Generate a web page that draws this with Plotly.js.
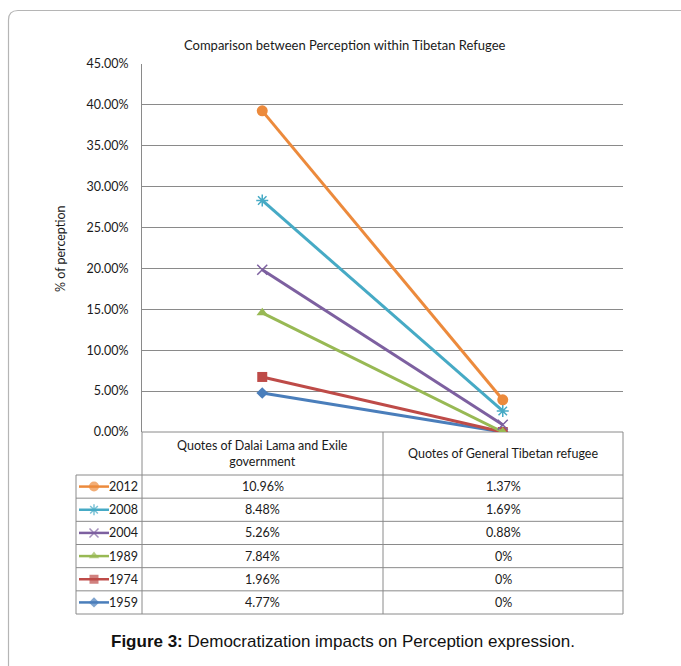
<!DOCTYPE html>
<html>
<head>
<meta charset="utf-8">
<script src="https://cdn.plot.ly/plotly-3.0.1.min.js"></script>
<style>html,body{margin:0;padding:0;background:#fff;}#chart{width:681px;height:666px;}</style>
</head>
<body>
<div id="chart"></div>
<script>
// ---- data ----
const categories = ["Quotes of Dalai Lama and Exile<br>government", "Quotes of General Tibetan refugee"];
const seriesNames = ["1959", "1974", "1989", "2004", "2008", "2012"];
const dalaiValues   = [4.77, 1.96, 7.84, 5.26, 8.48, 10.96];
const generalValues = [0, 0, 0, 0.88, 1.69, 1.37];
const yTickVals = [0, 0.05, 0.10, 0.15, 0.20, 0.25, 0.30, 0.35, 0.40, 0.45];
const chartTitle = "Comparison between Perception within Tibetan Refugee";
const yTitle = "% of perception";
const captionBold = "Figure 3:";
const captionText = " Democratization impacts on Perception expression.";

// ---- styles ----
const colors = ["#4A7EBB", "#BE4B48", "#98B954", "#7D60A0", "#46AAC5", "#EC8A3C"];
const symbols = ["diamond", "square", "triangle-up", "x-thin-open", "asterisk-open", "circle"];
const sizes = [9, 10, 10, 10, 10, 11];
const W = 681, H = 666;
const px = x => x / W;
const py = y => 1 - y / H;
const font = "Lato, 'Open Sans', sans-serif";
const gridCol = "#8a8a8a";

const traces = [];
seriesNames.forEach((name, i) => {
  traces.push({
    type: "scatter", mode: "lines+markers",
    x: [0, 1], y: [dalaiValues[i] / 100, generalValues[i] / 100],
    stackgroup: "one", fill: "none",
    name: name,
    line: {color: colors[i], width: 3},
    marker: {symbol: symbols[i], size: sizes[i], color: colors[i],
             line: {color: colors[i], width: (symbols[i].indexOf("open") >= 0) ? 1.5 : 0}},
    xaxis: "x", yaxis: "y", showlegend: false, hoverinfo: "skip"
  });
});

// table geometry (pixels)
const axL = 142, axR = 623, divX = 383, tblL = 76;
const headTop = 432, headBot = 475, rowH = (614 - 475) / 6;
const rowY = k => headBot + k * rowH; // k from 0..6, row 0 = 2012

// legend keys in table
seriesNames.forEach((name, i) => {
  const r = seriesNames.length - 1 - i; // 2012 at top
  const yc = 6 - r - 0.5;
  traces.push({
    type: "scatter", mode: "lines+markers",
    x: [79, 94, 109], y: [yc, yc, yc],
    line: {color: colors[i], width: 2.5},
    marker: {symbol: symbols[i], size: [0, sizes[i] - 1, 0], color: colors[i],
             line: {color: colors[i], width: (symbols[i].indexOf("open") >= 0) ? 1.5 : 0}},
    xaxis: "x2", yaxis: "y2", showlegend: false, hoverinfo: "skip"
  });
});

const shapes = [];
const line = (x0, y0, x1, y1) => shapes.push({type: "line", xref: "paper", yref: "paper",
  x0: px(x0), y0: py(y0), x1: px(x1), y1: py(y1), line: {color: gridCol, width: 1}, layer: "below"});
// outer frame
shapes.push({type: "path", xref: "paper", yref: "paper",
  path: `M ${px(8.5)},${py(666)} L ${px(8.5)},${py(20)} Q ${px(8.5)},${py(10.5)} ${px(18)},${py(10.5)} L ${px(681)},${py(10.5)}`,
  line: {color: "#b5b5b5", width: 1.2}});
// table lines
line(axL, headTop, axR, headTop);
line(axL, headTop, axL, 614);
line(divX, headTop, divX, 614);
line(axR, headTop, axR, 614);
line(tblL, headBot, tblL, 614);
for (let k = 0; k <= 6; k++) line(tblL, rowY(k), axR, rowY(k));

const annotations = [];
const ann = (x, y, text, opts) => annotations.push(Object.assign({xref: "paper", yref: "paper",
  x: px(x), y: py(y), xanchor: "center", yanchor: "middle", text: text, showarrow: false,
  font: {family: font, size: 12.5, color: "#1a1a1a"}}, opts || {}));
ann(W / 2 + 4, 45, chartTitle, {font: {family: font, size: 13, color: "#1a1a1a"}});
ann(61, 249, yTitle, {textangle: -90});
ann((axL + divX) / 2, (headTop + headBot) / 2, categories[0], {});
ann((divX + axR) / 2, (headTop + headBot) / 2, categories[1], {});
const fmt = v => v === 0 ? "0%" : v.toFixed(2) + "%";
seriesNames.forEach((name, i) => {
  const r = seriesNames.length - 1 - i;
  const yc = rowY(r) + rowH / 2;
  ann(140, yc, name, {xanchor: "right"});
  ann((axL + divX) / 2, yc, fmt(dalaiValues[i]), {});
  ann((divX + axR) / 2, yc, fmt(generalValues[i]), {});
});
ann(W / 2 + 2, 641, "<b>" + captionBold + "</b>" + captionText,
  {font: {family: "'Liberation Sans', Arial, sans-serif", size: 17, color: "#111"}});

const layout = {
  width: W, height: H, margin: {l: 0, r: 0, t: 0, b: 0},
  paper_bgcolor: "#fff", plot_bgcolor: "#fff",
  xaxis: {domain: [px(axL), px(axR)], range: [-0.5, 1.5], showgrid: false, zeroline: false,
          showticklabels: false, showline: false, fixedrange: true},
  yaxis: {domain: [py(headTop), py(64)], range: [0, 0.45], tickvals: yTickVals, tickformat: ".2%",
          showgrid: true, gridcolor: gridCol, gridwidth: 1, zeroline: false,
          showline: true, linecolor: gridCol, linewidth: 1, ticks: "", ticklabelstandoff: 10,
          tickfont: {family: font, size: 12.5, color: "#1a1a1a"}},
  xaxis2: {domain: [px(tblL), px(axL)], range: [tblL, axL], visible: false, fixedrange: true},
  yaxis2: {domain: [py(614), py(headBot)], range: [0, 6], visible: false, fixedrange: true},
  shapes: shapes, annotations: annotations, showlegend: false
};

Plotly.newPlot("chart", traces, layout, {staticPlot: true, displayModeBar: false});
</script>
</body>
</html>
